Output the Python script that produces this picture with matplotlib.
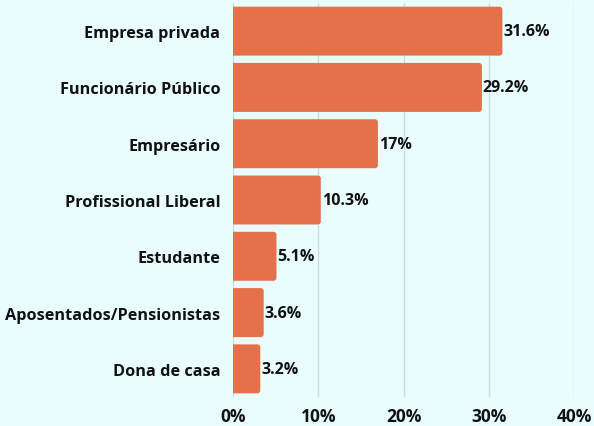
import matplotlib.pyplot as plt
from matplotlib.patches import FancyBboxPatch

categories = [
    "Empresa privada",
    "Funcionário Público",
    "Empresário",
    "Profissional Liberal",
    "Estudante",
    "Aposentados/Pensionistas",
    "Dona de casa",
]
values = [31.6, 29.2, 17, 10.3, 5.1, 3.6, 3.2]
value_labels = ["31.6%", "29.2%", "17%", "10.3%", "5.1%", "3.6%", "3.2%"]
xticks = [0, 10, 20, 30, 40]
xtick_labels = ["0%", "10%", "20%", "30%", "40%"]

BG = "#e9fdfd"
BAR = "#e4714a"
GRID = "#c9dede"
TEXT = "#111111"
FONT = ["Open Sans", "DejaVu Sans"]

W, H = 594, 427
fig = plt.figure(figsize=(W / 100, H / 100), dpi=100, facecolor=BG)
ax = fig.add_axes([233 / W, 1 - 398 / H, (574 - 233) / W, (398 - 4) / H])
ax.set_facecolor(BG)

ax.set_xlim(0, 40)
ax.set_ylim(len(categories) - 0.5, -0.5)

# aspect of one pixel in y vs x data units, for round corners
px_x = 40 / (574 - 233)
px_y = len(categories) / (398 - 4)
bar_h = 0.87
for i, v in enumerate(values):
    patch = FancyBboxPatch(
        (-1, i - bar_h / 2), v + 1, bar_h,
        boxstyle=f"round,pad=0,rounding_size={3 * px_x}",
        mutation_aspect=px_y / px_x,
        facecolor=BAR, edgecolor="none", zorder=3,
    )
    ax.add_patch(patch)
    ax.text(v + 0.1, i, value_labels[i], va="center", ha="left",
            fontsize=11.5, fontweight="bold", color=TEXT, family=FONT, zorder=4)

ax.set_yticks(range(len(categories)))
ax.set_yticklabels(categories, fontsize=11.7, fontweight="bold", color=TEXT, family=FONT)
ax.set_xticks(xticks)
ax.set_xticklabels(xtick_labels, fontsize=12.5, fontweight="bold", color=TEXT, family=FONT)
ax.tick_params(axis="y", length=0, pad=9)
ax.tick_params(axis="x", length=0, pad=7)

ax.grid(axis="x", color=GRID, lw=1, zorder=0)
for s in ax.spines.values():
    s.set_visible(False)

fig.savefig("out.png", dpi=100, facecolor=BG)
